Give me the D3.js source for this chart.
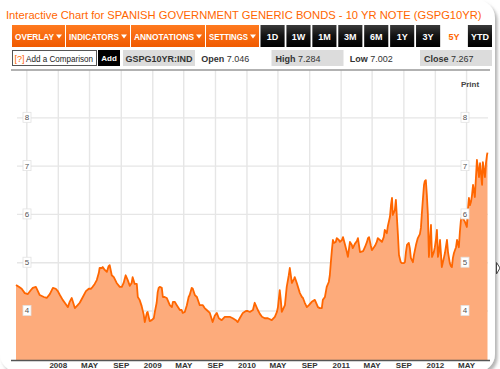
<!DOCTYPE html>
<html>
<head>
<meta charset="utf-8">
<script src="https://cdn.jsdelivr.net/npm/d3@7"></script>
<style>
  body { margin: 0; background: #fff; overflow: hidden; }
  svg { display: block; font-family: "Liberation Sans", Arial, sans-serif; }
</style>
</head>
<body>
<div id="container"></div>
<script>
/* DATA */
const title = "Interactive Chart for SPANISH GOVERNMENT GENERIC BONDS - 10 YR NOTE (GSPG10YR)";
const menuButtons = ["OVERLAY", "INDICATORS", "ANNOTATIONS", "SETTINGS"];
const periods = ["1D", "1W", "1M", "3M", "6M", "1Y", "3Y", "5Y", "YTD"];
const activePeriod = "5Y";
const ticker = "GSPG10YR:IND";
const quoteLabels = ["Open", "High", "Low", "Close"];
const quoteValues = ["7.046", "7.284", "7.002", "7.267"];
const yTicks = [4, 5, 6, 7, 8];

const dates = [
  "2007-07-23","2007-08-03","2007-08-14","2007-08-26","2007-09-07","2007-09-18","2007-09-26","2007-10-08",
  "2007-10-23","2007-11-08","2007-11-19","2007-12-01","2007-12-13","2007-12-24","2008-01-01","2008-01-09",
  "2008-01-20","2008-01-28","2008-02-09","2008-02-16","2008-02-24","2008-03-07","2008-03-18","2008-03-26",
  "2008-04-07","2008-04-19","2008-04-30","2008-05-08","2008-05-15","2008-05-23","2008-05-31","2008-06-08",
  "2008-06-11","2008-06-19","2008-06-23","2008-07-01","2008-07-09","2008-07-16","2008-07-20","2008-07-28",
  "2008-08-05","2008-08-16","2008-08-28","2008-09-05","2008-09-12","2008-09-20","2008-09-28","2008-10-06",
  "2008-10-13","2008-10-17","2008-10-25","2008-11-02","2008-11-06","2008-11-13","2008-11-21","2008-11-29",
  "2008-12-03","2008-12-11","2008-12-14","2008-12-22","2008-12-30","2009-01-07","2009-01-11","2009-01-18",
  "2009-01-22","2009-01-26","2009-01-30","2009-02-07","2009-02-11","2009-02-18","2009-02-26","2009-03-10",
  "2009-03-18","2009-03-22","2009-03-29","2009-04-06","2009-04-18","2009-04-25","2009-04-29","2009-05-07",
  "2009-05-15","2009-05-22","2009-05-26","2009-06-03","2009-06-07","2009-06-15","2009-06-23","2009-07-04",
  "2009-07-16","2009-07-23","2009-07-31","2009-08-12","2009-08-23","2009-08-31","2009-09-08","2009-09-16",
  "2009-09-27","2009-10-09","2009-10-17","2009-10-28","2009-11-09","2009-11-21","2009-11-28","2009-12-06",
  "2009-12-18","2009-12-30","2010-01-06","2010-01-14","2010-01-26","2010-02-02","2010-02-14","2010-02-22",
  "2010-03-02","2010-03-13","2010-03-25","2010-04-02","2010-04-09","2010-04-21","2010-04-29","2010-05-03",
  "2010-05-10","2010-05-14","2010-05-18","2010-05-30","2010-06-06","2010-06-14","2010-06-18","2010-06-26",
  "2010-07-04","2010-07-07","2010-07-15","2010-07-27","2010-08-04","2010-08-08","2010-08-15","2010-08-23",
  "2010-08-31","2010-09-11","2010-09-23","2010-10-05","2010-10-12","2010-10-20","2010-10-24","2010-11-01",
  "2010-11-08","2010-11-16","2010-11-20","2010-11-24","2010-11-28","2010-12-02","2010-12-06","2010-12-13",
  "2010-12-17","2010-12-25","2010-12-29","2011-01-06","2011-01-10","2011-01-18","2011-01-25","2011-01-29",
  "2011-02-06","2011-02-13","2011-02-17","2011-02-25","2011-03-05","2011-03-09","2011-03-17","2011-03-29",
  "2011-04-05","2011-04-13","2011-04-17","2011-04-21","2011-04-28","2011-05-02","2011-05-10","2011-05-14",
  "2011-05-21","2011-05-25","2011-06-02","2011-06-10","2011-06-17","2011-06-21","2011-06-29","2011-07-03",
  "2011-07-11","2011-07-15","2011-07-19","2011-07-22","2011-07-30","2011-08-03","2011-08-07","2011-08-11",
  "2011-08-15","2011-08-22","2011-08-26","2011-09-03","2011-09-07","2011-09-11","2011-09-15","2011-09-22",
  "2011-09-26","2011-09-30","2011-10-08","2011-10-12","2011-10-20","2011-10-27","2011-11-04","2011-11-08",
  "2011-11-12","2011-11-16","2011-11-20","2011-11-23","2011-11-27","2011-12-01","2011-12-05","2011-12-09",
  "2011-12-13","2011-12-17","2011-12-21","2011-12-28","2012-01-01","2012-01-05","2012-01-09","2012-01-13",
  "2012-01-17","2012-01-21","2012-01-25","2012-01-28","2012-02-05","2012-02-09","2012-02-17","2012-02-21",
  "2012-02-28","2012-03-03","2012-03-07","2012-03-11","2012-03-15","2012-03-23","2012-03-27","2012-04-03",
  "2012-04-07","2012-04-11","2012-04-15","2012-04-23","2012-04-27","2012-05-04","2012-05-08","2012-05-12",
  "2012-05-16","2012-05-20","2012-05-24","2012-05-28","2012-06-04","2012-06-08","2012-06-12","2012-06-20",
  "2012-06-24","2012-07-02","2012-07-05","2012-07-13","2012-07-17","2012-07-21","2012-07-23"
];
const yields = [
  4.53,4.49,4.45,4.36,4.34,4.42,4.47,4.49,
  4.32,4.28,4.26,4.34,4.47,4.45,4.40,4.32,
  4.22,4.16,4.07,4.18,4.26,4.05,4.11,4.16,
  4.28,4.40,4.45,4.45,4.49,4.55,4.63,4.78,
  4.88,4.88,4.90,4.84,4.80,4.92,4.94,4.73,
  4.69,4.57,4.49,4.49,4.57,4.73,4.63,4.51,
  4.57,4.69,4.55,4.55,4.28,4.22,4.09,3.91,
  3.76,3.95,3.97,3.78,3.80,3.84,3.97,4.16,
  4.38,4.47,4.49,4.47,4.28,4.28,4.26,4.11,
  4.07,4.18,4.18,4.11,4.01,4.01,3.95,3.97,
  4.11,4.28,4.32,4.47,4.45,4.32,4.28,4.11,
  4.11,4.05,4.01,3.95,3.76,3.89,3.95,3.84,
  3.80,3.87,3.87,3.87,3.84,3.80,3.76,3.84,
  3.95,3.99,3.99,3.97,4.01,4.16,4.01,3.93,
  3.87,3.84,3.84,3.82,3.80,3.87,3.97,4.07,
  4.42,4.22,3.97,4.11,4.49,4.73,4.88,4.57,
  4.65,4.69,4.57,4.36,4.28,4.26,4.16,4.07,
  4.11,4.18,4.22,4.07,4.05,4.05,4.22,4.28,
  4.49,4.59,4.73,5.00,5.25,5.46,5.40,5.42,
  5.50,5.46,5.42,5.46,5.52,5.36,5.21,5.11,
  5.42,5.36,5.29,5.38,5.44,5.50,5.21,5.23,
  5.31,5.42,5.50,5.52,5.34,5.25,5.31,5.34,
  5.42,5.50,5.46,5.42,5.52,5.67,5.60,5.75,
  5.94,6.18,6.33,5.98,6.08,6.29,5.92,5.56,
  5.15,5.00,4.98,4.98,5.00,5.21,5.36,5.40,
  5.29,5.09,5.00,5.15,5.36,5.50,5.58,5.71,
  6.04,6.33,6.60,6.68,6.70,6.39,5.98,5.11,
  5.46,5.77,5.11,5.21,5.31,5.46,5.67,5.11,
  5.21,5.46,5.15,4.90,5.09,5.19,5.46,5.21,
  4.98,4.92,4.90,5.09,5.19,5.31,5.46,5.31,
  5.63,5.87,5.94,5.87,5.83,5.73,6.08,6.33,
  6.18,6.25,6.39,6.60,6.35,6.74,7.12,6.76,
  7.05,6.60,7.07,6.76,7.05,7.22,7.27
];

/* LAYOUT */
const W = 500, H = 369;
const plot = {left: 16, right: 487.5, top: 70, bottom: 360};
const menuEdges = [12, 66, 131, 206, 260];   // button borders of the orange menu
const orange = "#ff6600";
const parseDate = d3.timeParse("%Y-%m-%d");
const data = dates.map((d, i) => ({date: parseDate(d), value: yields[i]}));

const svg = d3.select("#container").append("svg")
  .attr("width", W)
  .attr("height", H);

const defs = svg.append("defs");
const shadow = defs.append("filter").attr("id", "shadow")
  .attr("x", "-5%").attr("y", "-5%").attr("width", "112%").attr("height", "112%");
shadow.append("feDropShadow")
  .attr("dx", 2.5).attr("dy", 3).attr("stdDeviation", 1.5)
  .attr("flood-color", "#777").attr("flood-opacity", 0.55);

const btnGrad = defs.append("linearGradient").attr("id", "blackBtn").attr("x2", 0).attr("y2", 1);
btnGrad.append("stop").attr("offset", 0).attr("stop-color", "#3a3a3a");
btnGrad.append("stop").attr("offset", 0.5).attr("stop-color", "#111");
btnGrad.append("stop").attr("offset", 1).attr("stop-color", "#000");

const orGrad = defs.append("linearGradient").attr("id", "orangeBtn").attr("x2", 0).attr("y2", 1);
orGrad.append("stop").attr("offset", 0).attr("stop-color", "#ff7a1f");
orGrad.append("stop").attr("offset", 1).attr("stop-color", "#f05a00");

// card
svg.append("rect")
  .attr("x", 0).attr("y", 0).attr("width", 495).attr("height", 372)
  .attr("rx", 18)
  .attr("fill", "#fff")
  .attr("filter", "url(#shadow)");

// title, sized so it spans x 6..483 like the reference
const titleText = svg.append("text")
  .attr("x", 6).attr("y", 18.5)
  .attr("fill", orange)
  .style("font-size", "12px")
  .text(title);
const titleW = titleText.node().getComputedTextLength();
titleText.style("font-size", (12 * 476 / titleW).toFixed(2) + "px");

/* TOOLBAR */
const bar = svg.append("g");
const menu = bar.selectAll("g.menu")
  .data(menuButtons)
  .join("g")
  .attr("class", "menu");

menu.append("rect")
  .attr("x", (d, i) => menuEdges[i])
  .attr("y", 25)
  .attr("width", (d, i) => menuEdges[i + 1] - menuEdges[i] - 1)
  .attr("height", 22)
  .attr("fill", "url(#orangeBtn)");

menu.append("text")
  .attr("x", (d, i) => menuEdges[i] + 3)
  .attr("y", 39.5)
  .attr("fill", "#fff")
  .style("font-size", "8.5px")
  .style("font-weight", "bold")
  .attr("textLength", (d, i) => menuEdges[i + 1] - menuEdges[i] - 15)
  .attr("lengthAdjust", "spacingAndGlyphs")
  .text(d => d);

// the little down-arrows
menu.append("path")
  .attr("d", (d, i) => {
    const r = menuEdges[i + 1] - 4;
    return `M${r - 6},34.5 L${r},34.5 L${r - 3},38.5 Z`;
  })
  .attr("fill", "#fff");

const periodScale = d3.scaleBand()
  .domain(periods)
  .range([260.5, 492])
  .paddingInner(0.07);

const pb = bar.selectAll("g.period")
  .data(periods)
  .join("g")
  .attr("class", "period");

pb.append("rect")
  .attr("x", d => periodScale(d))
  .attr("y", 25)
  .attr("width", periodScale.bandwidth())
  .attr("height", 22)
  .attr("fill", d => d === activePeriod ? "#fff" : "url(#blackBtn)");

pb.append("text")
  .attr("x", d => periodScale(d) + periodScale.bandwidth() / 2)
  .attr("y", 39.5)
  .attr("text-anchor", "middle")
  .attr("fill", d => d === activePeriod ? orange : "#fff")
  .style("font-size", "9px")
  .style("font-weight", "bold")
  .text(d => d);

/* COMPARISON + QUOTE ROW */
const row = svg.append("g");
row.append("rect")
  .attr("x", 12.5).attr("y", 50.5).attr("width", 84).attr("height", 15)
  .attr("fill", "#fff").attr("stroke", "#555");
row.append("text")
  .attr("x", 14.5).attr("y", 61.5)
  .attr("fill", orange)
  .style("font-size", "9px")
  .text("[?]");
row.append("text")
  .attr("x", 26).attr("y", 61.5)
  .attr("fill", "#222")
  .style("font-size", "9px")
  .attr("textLength", 67)
  .attr("lengthAdjust", "spacingAndGlyphs")
  .text("Add a Comparison");
row.append("rect")
  .attr("x", 98).attr("y", 50).attr("width", 22).attr("height", 16)
  .attr("fill", "#000");
row.append("text")
  .attr("x", 109).attr("y", 61)
  .attr("text-anchor", "middle")
  .attr("fill", "#fff")
  .style("font-size", "8px")
  .style("font-weight", "bold")
  .text("Add");

const cells = [ticker].concat(quoteLabels);
const cellScale = d3.scaleBand()
  .domain(cells)
  .range([123, 492])
  .paddingInner(0.03);

row.selectAll("rect.cell")
  .data(cells)
  .join("rect")
  .attr("class", "cell")
  .attr("x", d => cellScale(d))
  .attr("y", 50)
  .attr("width", cellScale.bandwidth())
  .attr("height", 16)
  .attr("fill", (d, i) => i % 2 === 0 ? "#dcdcdc" : "#fff");

row.append("text")
  .attr("x", cellScale(ticker) + cellScale.bandwidth() / 2)
  .attr("y", 61.5)
  .attr("text-anchor", "middle")
  .attr("fill", "#333")
  .style("font-size", "9px")
  .style("font-weight", "bold")
  .text(ticker);

const qt = row.selectAll("text.quote")
  .data(quoteLabels)
  .join("text")
  .attr("class", "quote")
  .attr("x", d => cellScale(d) + 4)
  .attr("y", 61.5)
  .attr("fill", "#333")
  .style("font-size", "9px");
qt.append("tspan").style("font-weight", "bold").text(d => d + " ");
qt.append("tspan").text((d, i) => quoteValues[i]);

/* SCALES */
const xScale = d3.scaleTime()
  .domain(d3.extent(data, d => d.date))
  .range([plot.left, plot.right]);

const yScale = d3.scaleLinear()
  .domain([2.975, 8.98])
  .range([plot.bottom, plot.top]);

/* GRID */
const gridMonths = d3.timeMonth.every(4).range(new Date(2007, 8, 1), new Date(2012, 6, 1));

svg.append("g")
  .attr("transform", `translate(0,${plot.bottom})`)
  .call(d3.axisBottom(xScale).tickValues(gridMonths).tickSize(-(plot.bottom - plot.top)).tickFormat(""))
  .call(g => g.select(".domain").remove())
  .call(g => g.selectAll("line").attr("stroke", "#e6e6e6").attr("stroke-width", 1.4));

svg.append("g")
  .attr("transform", `translate(${plot.left + 1},0)`)
  .call(d3.axisLeft(yScale).tickValues(yTicks).tickSize(-(488 - plot.left - 1)).tickFormat(""))
  .call(g => g.select(".domain").remove())
  .call(g => g.selectAll("line").attr("stroke", "#e6e6e6").attr("stroke-width", 1.4));

/* AREA + LINE */
const area = d3.area()
  .x(d => xScale(d.date))
  .y0(plot.bottom)
  .y1(d => yScale(d.value));

const line = d3.line()
  .x(d => xScale(d.date))
  .y(d => yScale(d.value));

svg.append("path")
  .datum(data)
  .attr("d", area)
  .attr("fill", "#fdab7b");

svg.append("path")
  .datum(data)
  .attr("d", line)
  .attr("fill", "none")
  .attr("stroke", orange)
  .attr("stroke-width", 1.8)
  .attr("stroke-linejoin", "round");

/* FRAME LINES */
svg.append("line")
  .attr("x1", 11).attr("x2", 490)
  .attr("y1", plot.top).attr("y2", plot.top)
  .attr("stroke", "#999").attr("stroke-width", 1.5);

svg.append("line")
  .attr("x1", 11).attr("x2", 490)
  .attr("y1", plot.bottom + 0.5).attr("y2", plot.bottom + 0.5)
  .attr("stroke", "#555").attr("stroke-width", 1.5);

/* X AXIS LABELS */
const labelMonths = gridMonths.filter(d => d >= new Date(2008, 0, 1));
const fmtMonth = d3.timeFormat("%b");
svg.append("g")
  .attr("transform", `translate(0,${plot.bottom})`)
  .call(d3.axisBottom(xScale)
    .tickValues(labelMonths)
    .tickSize(0)
    .tickPadding(2)
    .tickFormat(d => d.getMonth() === 0 ? d.getFullYear() : fmtMonth(d).toUpperCase()))
  .call(g => g.select(".domain").remove())
  .call(g => g.selectAll("text")
    .attr("fill", "#333")
    .style("font-size", "8px")
    .style("font-weight", "bold")
    .style("font-family", "'Liberation Sans', Arial, sans-serif"));

/* Y LABELS (both sides) */
[27, 465].forEach(xPos => {
  const lab = svg.append("g").selectAll("g")
    .data(yTicks)
    .join("g")
    .attr("transform", d => `translate(${xPos},${yScale(d)})`);
  lab.append("rect")
    .attr("x", -4).attr("y", -5).attr("width", 8).attr("height", 10)
    .attr("fill", "#fff").attr("stroke", "#e2e2e2").attr("stroke-width", 0.8);
  lab.append("text")
    .attr("text-anchor", "middle")
    .attr("y", 3)
    .attr("fill", "#555")
    .style("font-size", "8px")
    .text(d => d);
});

// print link
svg.append("text")
  .attr("x", 470).attr("y", 87)
  .attr("text-anchor", "middle")
  .attr("fill", "#444")
  .style("font-size", "8px")
  .style("font-weight", "bold")
  .text("Print");

// small collapse arrow at right edge
svg.append("path")
  .attr("d", "M496.5,262.5 L500,268 L496.5,274 Z")
  .attr("fill", "#fff")
  .attr("stroke", "#444")
  .attr("stroke-width", 1);
</script>
</body>
</html>
